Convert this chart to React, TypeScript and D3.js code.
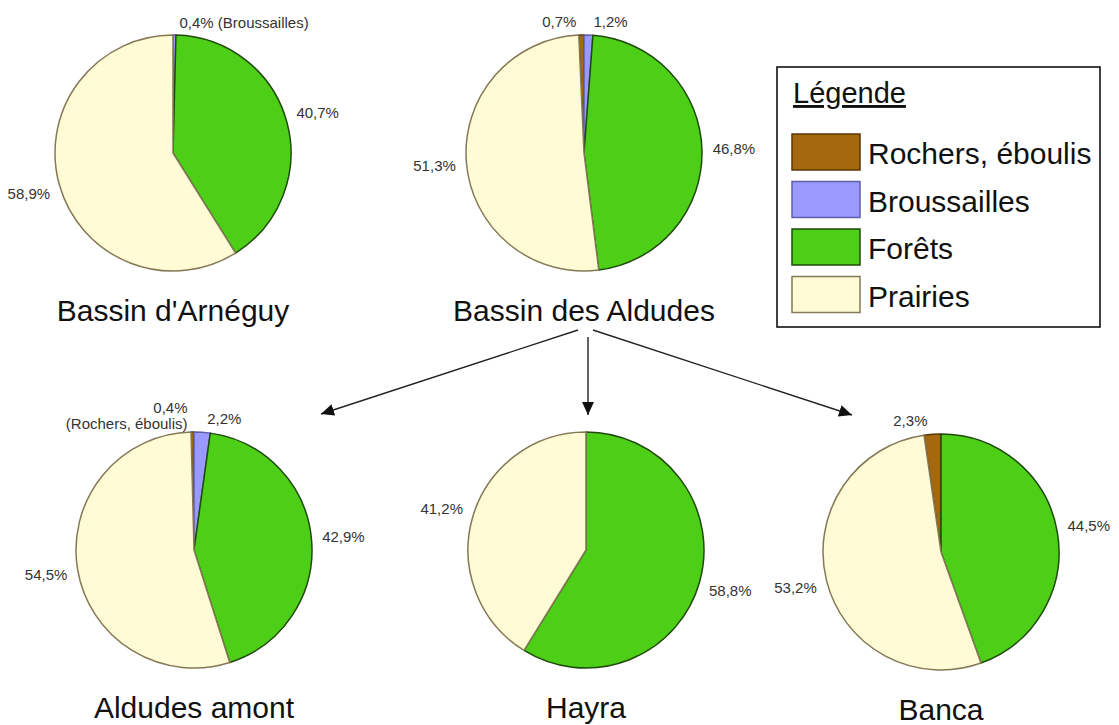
import React, { useRef, useEffect } from "react";
import * as d3 from "d3";

// Occupation du sol par bassin versant (en % de la surface)
const categories = ["Rochers, éboulis", "Broussailles", "Forêts", "Prairies"];
const fills = ["#a5680e", "#9999ff", "#4ccf16", "#fffbd4"];
const strokes = ["#5a3806", "#5f5fa8", "#1f4a0a", "#857857"];

const basins = ["Bassin d'Arnéguy", "Bassin des Aldudes", "Aldudes amont", "Hayra", "Banca"];
const arneguy = [0, 0.4, 40.7, 58.9];
const aldudes = [0.7, 1.2, 46.8, 51.3];
const aldudesAmont = [0.4, 2.2, 42.9, 54.5];
const hayra = [0, 0, 58.8, 41.2];
const banca = [2.3, 0, 44.5, 53.2];
const series = [arneguy, aldudes, aldudesAmont, hayra, banca];

// index de la part dont l'étiquette rappelle la catégorie (-1 : aucune)
const namedSlice = [1, -1, 0, -1, -1];

// le bassin des Aldudes se décompose en trois sous-bassins
const parent = 1;
const children = [2, 3, 4];

const W = 1119,
  H = 725;
const FONT = "'Liberation Sans', Arial, Helvetica, sans-serif";

const fmt = (v) => `${v.toFixed(1).replace(".", ",")}%`;

const App = () => {
  const ref = useRef(null);

  useEffect(() => {
    const svg = d3.select(ref.current);
    svg.selectChildren().remove();
    svg.style("font-family", FONT);

    // disposition des camemberts
    const R = 118;
    const centers = [
      [173, 153],
      [584, 153],
      [194, 550],
      [586, 550],
      [941, 552],
    ];
    const arc = d3.arc().innerRadius(0).outerRadius(R);

    basins.forEach((name, bi) => {
      const values = series[bi];
      const total = d3.sum(values);
      const start = (-values[0] / total) * 2 * Math.PI;
      const pie = d3
        .pie()
        .sort(null)
        .value((d) => d)
        .startAngle(start)
        .endAngle(start + 2 * Math.PI);
      const arcs = pie(values).filter((a) => a.data > 0);
      const [cx, cy] = centers[bi];

      const g = svg.append("g").attr("transform", `translate(${cx},${cy})`);

      g.selectAll("path")
        .data(arcs)
        .join("path")
        .attr("d", arc)
        .attr("fill", (d) => fills[d.index])
        .attr("stroke", (d) => strokes[d.index])
        .attr("stroke-width", 1.5)
        .attr("stroke-linejoin", "round");

      // étiquettes de pourcentage
      arcs.forEach((a) => {
        const mid = (a.startAngle + a.endAngle) / 2;
        const s = Math.sin(mid);
        const lab = g
          .append("text")
          .attr("font-size", 15)
          .attr("fill", "#333");
        if (a.data >= 3) {
          lab
            .attr("x", s * 150)
            .attr("y", -Math.cos(mid) * 150 + 5)
            .attr("text-anchor", "middle")
            .text(fmt(a.data));
        } else {
          const right = s >= 0;
          const x = s * R + (right ? 5 : -5);
          lab.attr("x", x).attr("text-anchor", right ? "start" : "end");
          if (namedSlice[bi] === a.index) {
            if (right) {
              lab.attr("y", -R - 7).text(`${fmt(a.data)} (${categories[a.index]})`);
            } else {
              lab.attr("y", -R - 19).text(fmt(a.data));
              g.append("text")
                .attr("font-size", 15)
                .attr("fill", "#333")
                .attr("x", x)
                .attr("y", -R - 3)
                .attr("text-anchor", "end")
                .text(`(${categories[a.index]})`);
            }
          } else {
            lab.attr("y", -R - 8).text(fmt(a.data));
          }
        }
      });

      // titre du bassin
      g.append("text")
        .attr("x", 0)
        .attr("y", R + 50)
        .attr("text-anchor", "middle")
        .attr("font-size", 30)
        .attr("fill", "#111")
        .text(name);
    });

    // flèches vers les sous-bassins
    svg
      .append("defs")
      .append("marker")
      .attr("id", "arrow")
      .attr("viewBox", "0 0 12 12")
      .attr("refX", 12)
      .attr("refY", 6)
      .attr("markerWidth", 13)
      .attr("markerHeight", 13)
      .attr("markerUnits", "userSpaceOnUse")
      .attr("orient", "auto")
      .append("path")
      .attr("d", "M0,0.5L12,6L0,11.5Z")
      .attr("fill", "#111");

    const starts = [
      [578, 330],
      [588, 337],
      [593, 330],
    ];
    const tips = [
      [321, 414],
      [588, 415],
      [852, 415],
    ];
    children.forEach((c, i) => {
      svg
        .append("line")
        .attr("x1", starts[i][0])
        .attr("y1", starts[i][1])
        .attr("x2", tips[i][0])
        .attr("y2", tips[i][1])
        .attr("stroke", "#222")
        .attr("stroke-width", 1.4)
        .attr("marker-end", "url(#arrow)")
        .attr("data-from", basins[parent])
        .attr("data-to", basins[c]);
    });

    // Légende
    const lg = svg.append("g").attr("transform", "translate(777,67)");
    lg.append("rect")
      .attr("width", 323)
      .attr("height", 260)
      .attr("fill", "#fff")
      .attr("stroke", "#111")
      .attr("stroke-width", 1.6);
    lg.append("text")
      .attr("x", 16)
      .attr("y", 36)
      .attr("font-size", 29)
      .attr("fill", "#111")
      .style("text-decoration", "underline")
      .text("Légende");
    const item = lg
      .selectAll("g.item")
      .data(categories)
      .join("g")
      .attr("class", "item")
      .attr("transform", (_d, i) => `translate(15,${67 + i * 47.5})`);
    item
      .append("rect")
      .attr("width", 68)
      .attr("height", 36)
      .attr("fill", (_d, i) => fills[i])
      .attr("stroke", (_d, i) => strokes[i])
      .attr("stroke-width", 1.5);
    item
      .append("text")
      .attr("x", 76)
      .attr("y", 30)
      .attr("font-size", 30)
      .attr("fill", "#111")
      .text((d) => d);
  }, []);

  return (
    <svg
      ref={ref}
      width={W}
      height={H}
      style={{ position: "absolute", left: 0, top: 0, background: "#fff" }}
    />
  );
};

export default App;
